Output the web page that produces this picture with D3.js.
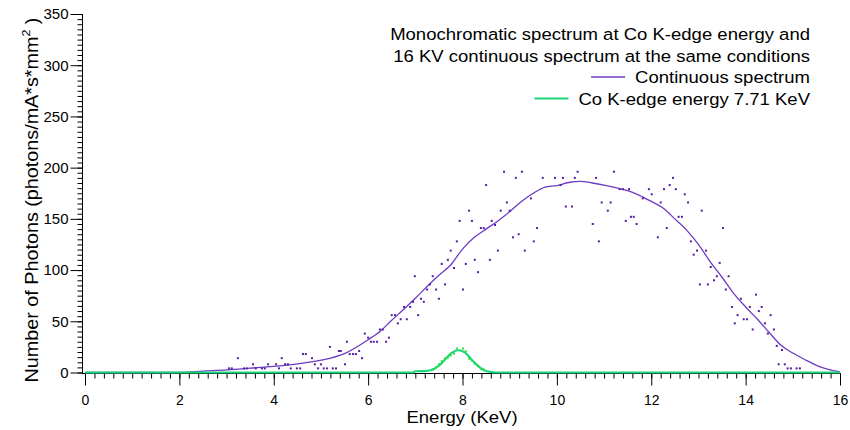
<!DOCTYPE html>
<html>
<head>
<meta charset="utf-8">
<script src="https://cdn.jsdelivr.net/npm/d3@7"></script>
<style>
  body { margin: 0; background: #fff; }
  svg { display: block; font-family: "Liberation Sans", Arial, sans-serif; }
</style>
</head>
<body>
<div id="chart"></div>
<script>
// smooth continuous spectrum line [energy keV, photons]
const contLine = [
  [0, 0], [2, 0], [2.5, 1.3], [3, 2.5], [3.5, 4.2], [4, 6], [4.5, 8.5], [5, 12],
  [5.5, 18.5], [6, 32], [6.25, 40], [6.5, 51], [6.75, 61.5], [7, 72.5], [7.25, 84],
  [7.5, 95], [7.75, 105], [8, 120.5], [8.25, 132], [8.5, 140], [8.75, 148],
  [9, 157], [9.25, 167], [9.5, 175], [9.75, 181], [10, 182.5], [10.25, 185.5],
  [10.5, 186.5], [10.75, 185], [11, 183], [11.25, 180.5], [11.5, 177.5],
  [11.75, 173], [12, 167], [12.25, 160.5], [12.5, 150], [12.75, 139], [13, 125],
  [13.25, 108], [13.5, 93], [13.75, 77], [14, 64], [14.25, 52], [14.5, 39],
  [14.75, 26.5], [15, 19], [15.25, 12.7], [15.5, 7], [15.75, 3], [16, 0.5]
];

// measured points of the continuous spectrum
const contPoints = [
  [3.05, 4], [3.11, 4], [3.24, 14], [3.37, 4], [3.43, 4], [3.56, 8], [3.62, 4],
  [3.75, 4], [3.81, 4], [3.88, 8], [4.05, 8], [4.11, 4], [4.17, 14], [4.24, 8],
  [4.30, 8], [4.36, 4], [4.49, 4], [4.56, 4], [4.62, 18], [4.68, 18], [4.81, 14],
  [4.87, 8], [4.94, 4], [5.00, 8], [5.06, 4], [5.13, 4], [5.19, 25], [5.25, 4],
  [5.32, 4], [5.38, 21], [5.42, 21], [5.51, 8], [5.55, 30], [5.61, 18], [5.68, 18],
  [5.74, 18], [5.81, 21], [5.87, 14], [5.93, 38], [6.00, 34], [6.06, 30], [6.12, 30],
  [6.19, 30], [6.25, 42], [6.31, 42], [6.38, 30], [6.44, 34], [6.50, 56], [6.57, 56],
  [6.63, 48], [6.69, 52], [6.76, 64], [6.82, 52], [6.89, 64], [6.95, 69], [6.99, 94],
  [7.06, 56], [7.12, 72], [7.18, 69], [7.25, 81], [7.31, 86], [7.37, 94], [7.44, 81],
  [7.50, 72], [7.56, 106], [7.63, 86], [7.69, 110], [7.75, 119], [7.82, 102],
  [7.88, 128], [7.94, 148], [8.01, 81], [8.07, 106], [8.14, 158], [8.20, 148],
  [8.26, 110], [8.33, 98], [8.39, 141], [8.45, 141], [8.50, 183], [8.58, 110],
  [8.62, 148], [8.69, 144], [8.75, 119], [8.81, 158], [8.88, 196], [8.94, 166],
  [9.00, 158], [9.07, 132], [9.13, 190], [9.19, 135], [9.26, 196], [9.32, 119],
  [9.45, 170], [9.51, 128], [9.58, 141], [9.70, 190], [9.96, 190], [10.08, 183],
  [10.13, 190], [10.19, 162], [10.32, 162], [10.38, 190], [10.44, 196], [10.76, 145],
  [10.83, 190], [10.89, 128], [10.95, 166], [11.08, 158], [11.14, 166], [11.21, 196],
  [11.33, 179], [11.40, 179], [11.46, 148], [11.53, 179], [11.57, 152], [11.63, 152],
  [11.69, 145], [11.82, 170], [11.95, 179], [12.01, 174], [12.14, 132], [12.20, 166],
  [12.27, 179], [12.33, 141], [12.39, 183], [12.46, 190], [12.52, 179], [12.58, 152],
  [12.65, 152], [12.71, 174], [12.78, 166], [12.84, 128], [12.90, 115], [12.97, 119],
  [13.03, 86], [13.07, 158], [13.16, 119], [13.20, 86], [13.26, 103], [13.33, 90],
  [13.39, 94], [13.45, 107], [13.52, 141], [13.58, 81], [13.64, 94], [13.71, 64],
  [13.77, 48], [13.83, 56], [13.90, 72], [13.96, 52], [14.03, 52], [14.09, 64],
  [14.15, 42], [14.22, 76], [14.28, 60], [14.34, 64], [14.41, 48], [14.47, 38],
  [14.53, 56], [14.60, 42], [14.66, 26], [14.70, 8], [14.77, 22], [14.83, 8],
  [14.89, 4], [14.96, 4], [15.08, 4], [15.15, 4]
];

// Co K-edge monochromatic line and its points
const kedgeLine = [
  [0, 0], [6.95, 0], [7.0, 1.2], [7.2, 1.3], [7.34, 2.4], [7.45, 5], [7.56, 9],
  [7.66, 14.3], [7.77, 19.2], [7.91, 21.7], [8.05, 19.6], [8.19, 12.7], [8.33, 6.2],
  [8.47, 2], [8.62, 0.3], [8.7, 0], [16, 0]
];
const kedgePoints = [
  [7.37, 3], [7.44, 5], [7.50, 8], [7.56, 11], [7.63, 13.6], [7.69, 14.6],
  [7.75, 16.6], [7.82, 18.5], [7.88, 23.4], [8.01, 23.4], [8.07, 20.5], [8.14, 13.6],
  [8.20, 11.7], [8.26, 8.8], [8.33, 6.8], [8.39, 3.9], [8.45, 2.9]
];

const xMajor = [0, 2, 4, 6, 8, 10, 12, 14, 16];
const yMajor = [0, 50, 100, 150, 200, 250, 300, 350];
const titleLines = [
  'Monochromatic spectrum at Co K-edge energy and',
  '16 KV continuous spectrum at the same conditions'
];
const legendLabels = ['Continuous spectrum', 'Co K-edge energy 7.71 KeV'];

const size = { width: 850, height: 430 };
const colors = {
  contLine: '#6c3bc4',
  contPoint: '#561ca6',
  kLine: '#1cd67c',
  kPoint: '#1ee23a'
};
// the text in the source picture is a little wider than Arial
const stretch = 1.09;

const x = d3.scaleLinear().domain([0, 16]).range([85, 840]);
const y = d3.scaleLinear().domain([0, 350]).range([372.5, 14]);

const svg = d3.select('#chart').append('svg')
  .attr('width', size.width)
  .attr('height', size.height);

// axes
const xMinor = d3.range(0, 16.001, 0.2).map(d => +d.toFixed(1));
svg.append('g')
  .attr('transform', 'translate(0,373.5)')
  .call(d3.axisBottom(x).tickValues(xMinor).tickSize(5).tickFormat(''))
  .call(g => g.select('.domain').remove());
svg.append('g')
  .attr('class', 'x-axis')
  .attr('transform', 'translate(0,373.5)')
  .call(d3.axisBottom(x).tickValues(xMajor).tickSize(12).tickSizeOuter(0).tickPadding(10))
  .call(g => g.select('.domain').attr('d', 'M82,0H841'));

const yMinor = d3.range(0, 351, 5);
svg.append('g')
  .attr('transform', 'translate(82.5,0)')
  .call(d3.axisLeft(y).tickValues(yMinor).tickSize(5).tickFormat(''))
  .call(g => g.select('.domain').remove());
svg.append('g')
  .attr('class', 'y-axis')
  .attr('transform', 'translate(82.5,0)')
  .call(d3.axisLeft(y).tickValues(yMajor).tickSize(12).tickSizeOuter(0).tickPadding(2))
  .call(g => g.select('.domain').attr('d', 'M0,14V374'));

svg.selectAll('.tick text')
  .attr('fill', '#000')
  .style('font-family', '"Liberation Sans", Arial, sans-serif');
svg.selectAll('.x-axis .tick text').style('font-size', '14px');
svg.selectAll('.y-axis .tick text').style('font-size', '15px');
svg.selectAll('.tick line, .domain').attr('stroke', '#000');

// axis titles
svg.append('text')
  .attr('transform', `translate(462,423) scale(${stretch},1)`)
  .attr('text-anchor', 'middle')
  .style('font-size', '17px')
  .text('Energy (KeV)');

const yTitle = svg.append('text')
  .attr('transform', 'translate(37.5,200) rotate(-90) scale(1.13,1)')
  .attr('text-anchor', 'middle')
  .style('font-size', '17.5px');
yTitle.append('tspan').text('Number of Photons (photons/mA*s*mm');
yTitle.append('tspan').attr('dy', -8).style('font-size', '11px').text('2');
yTitle.append('tspan').attr('dy', 8).text(' )');

// series
const line = d3.line()
  .x(d => x(d[0]))
  .y(d => y(d[1]))
  .curve(d3.curveMonotoneX);

svg.append('path')
  .datum(contLine)
  .attr('d', line)
  .attr('fill', 'none')
  .attr('stroke', colors.contLine)
  .attr('stroke-width', 1.3);

svg.append('g').selectAll('rect')
  .data(contPoints)
  .join('rect')
  .attr('x', d => x(d[0]) - 1)
  .attr('y', d => y(d[1]) - 1)
  .attr('width', 2)
  .attr('height', 2)
  .attr('fill', colors.contPoint);

svg.append('path')
  .datum(kedgeLine)
  .attr('d', line)
  .attr('fill', 'none')
  .attr('stroke', colors.kLine)
  .attr('stroke-width', 2.2);

svg.append('g').selectAll('rect')
  .data(kedgePoints)
  .join('rect')
  .attr('x', d => x(d[0]) - 1)
  .attr('y', d => y(d[1]) - 1)
  .attr('width', 2)
  .attr('height', 2)
  .attr('fill', colors.kPoint);

// legend
const legendRight = 810;
const legend = svg.append('g').style('font-size', '17px');
titleLines.forEach((t, i) => {
  legend.append('text')
    .attr('transform', `translate(${legendRight},${40 + i * 21.5}) scale(${stretch},1)`)
    .attr('text-anchor', 'end')
    .text(t);
});
legendLabels.forEach((t, i) => {
  const yPos = 83 + i * 21.5;
  const label = legend.append('text')
    .attr('transform', `translate(${legendRight},${yPos}) scale(${stretch},1)`)
    .attr('text-anchor', 'end')
    .text(t);
  const start = legendRight - label.node().getComputedTextLength() * stretch;
  legend.append('line')
    .attr('x1', start - 44)
    .attr('x2', start - 10)
    .attr('y1', yPos - 6)
    .attr('y2', yPos - 6)
    .attr('stroke', i === 0 ? colors.contLine : colors.kLine)
    .attr('stroke-width', i === 0 ? 1.3 : 2);
});
</script>
</body>
</html>
